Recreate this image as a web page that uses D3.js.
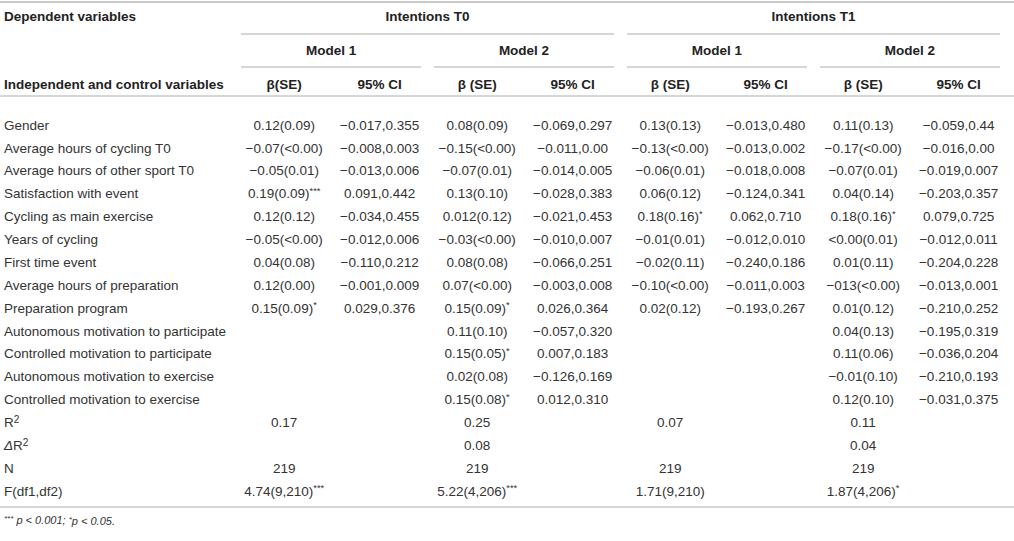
<!DOCTYPE html>
<html>
<head>
<meta charset="utf-8">
<script src="https://cdn.jsdelivr.net/npm/d3@7"></script>
<style>
  html, body { margin: 0; padding: 0; background: #fff; }
  svg { display: block; font-family: "Liberation Sans", Arial, Helvetica, sans-serif; }
</style>
</head>
<body>
<svg id="chart" width="1014" height="541"></svg>
<script>
// ---------- DATA ----------
const rowLabels = [
  "Gender",
  "Average hours of cycling T0",
  "Average hours of other sport T0",
  "Satisfaction with event",
  "Cycling as main exercise",
  "Years of cycling",
  "First time event",
  "Average hours of preparation",
  "Preparation program",
  "Autonomous motivation to participate",
  "Controlled motivation to participate",
  "Autonomous motivation to exercise",
  "Controlled motivation to exercise"
];
const statLabels = ["R2", "ΔR2", "N", "F(df1,df2)"];

const dependentGroups = ["Intentions T0", "Intentions T1"];
const modelGroups = ["Model 1", "Model 2", "Model 1", "Model 2"];
const subHeaders = ["β(SE)", "95% CI", "β (SE)", "95% CI", "β (SE)", "95% CI", "β (SE)", "95% CI"];

const t0m1Beta = ["0.12(0.09)", "−0.07(<0.00)", "−0.05(0.01)", "0.19(0.09)***", "0.12(0.12)", "−0.05(<0.00)", "0.04(0.08)", "0.12(0.00)", "0.15(0.09)*", "", "", "", ""];
const t0m1CI   = ["−0.017,0.355", "−0.008,0.003", "−0.013,0.006", "0.091,0.442", "−0.034,0.455", "−0.012,0.006", "−0.110,0.212", "−0.001,0.009", "0.029,0.376", "", "", "", ""];
const t0m2Beta = ["0.08(0.09)", "−0.15(<0.00)", "−0.07(0.01)", "0.13(0.10)", "0.012(0.12)", "−0.03(<0.00)", "0.08(0.08)", "0.07(<0.00)", "0.15(0.09)*", "0.11(0.10)", "0.15(0.05)*", "0.02(0.08)", "0.15(0.08)*"];
const t0m2CI   = ["−0.069,0.297", "−0.011,0.00", "−0.014,0.005", "−0.028,0.383", "−0.021,0.453", "−0.010,0.007", "−0.066,0.251", "−0.003,0.008", "0.026,0.364", "−0.057,0.320", "0.007,0.183", "−0.126,0.169", "0.012,0.310"];
const t1m1Beta = ["0.13(0.13)", "−0.13(<0.00)", "−0.06(0.01)", "0.06(0.12)", "0.18(0.16)*", "−0.01(0.01)", "−0.02(0.11)", "−0.10(<0.00)", "0.02(0.12)", "", "", "", ""];
const t1m1CI   = ["−0.013,0.480", "−0.013,0.002", "−0.018,0.008", "−0.124,0.341", "0.062,0.710", "−0.012,0.010", "−0.240,0.186", "−0.011,0.003", "−0.193,0.267", "", "", "", ""];
const t1m2Beta = ["0.11(0.13)", "−0.17(<0.00)", "−0.07(0.01)", "0.04(0.14)", "0.18(0.16)*", "<0.00(0.01)", "0.01(0.11)", "−013(<0.00)", "0.01(0.12)", "0.04(0.13)", "0.11(0.06)", "−0.01(0.10)", "0.12(0.10)"];
const t1m2CI   = ["−0.059,0.44", "−0.016,0.00", "−0.019,0.007", "−0.203,0.357", "0.079,0.725", "−0.012,0.011", "−0.204,0.228", "−0.013,0.001", "−0.210,0.252", "−0.195,0.319", "−0.036,0.204", "−0.210,0.193", "−0.031,0.375"];

// model-level statistics (T0 M1, T0 M2, T1 M1, T1 M2)
const rSquared = ["0.17", "0.25", "0.07", "0.11"];
const deltaR2  = ["", "0.08", "", "0.04"];
const nObs     = ["219", "219", "219", "219"];
const fStats   = ["4.74(9,210)***", "5.22(4,206)***", "1.71(9,210)", "1.87(4,206)*"];

const footnote = [["***", " p < 0.001; "], ["*", "p < 0.05."]];

// ---------- LAYOUT ----------
const W = 1014, H = 541;
const svg = d3.select("#chart");
const lineColor = "#c9c9c9";
const textColor = "#333";
const headColor = "#222";
const fs = 13.5;

const models = ["T0M1", "T0M2", "T1M1", "T1M2"];
const xModel = d3.scaleBand().domain(models).range([241, 1000]).paddingInner(0.067).paddingOuter(0);
const bw = xModel.bandwidth();
const betaX = m => xModel(m) + bw * 0.24;
const ciX = m => xModel(m) + bw * 0.77;

const allRows = rowLabels.concat(statLabels);
const yRow = d3.scalePoint().domain(d3.range(allRows.length)).range([125, 491]);

// header rows
const yHead = d3.scalePoint().domain(["dep", "model", "sub"]).range([16, 84]);

function addText(g, x, y, str, opts = {}) {
  const t = g.append("text")
    .attr("x", x).attr("y", y)
    .attr("dy", "0.35em")
    .attr("text-anchor", opts.anchor || "middle")
    .attr("font-size", opts.size || fs)
    .attr("font-weight", opts.bold ? "bold" : "normal")
    .attr("fill", opts.bold ? headColor : textColor);
  const m = /^(.*?)(\*+)$/.exec(str);
  if (m) {
    t.append("tspan").text(m[1]);
    t.append("tspan").text(m[2]).attr("font-size", fs * 0.7).attr("dy", "-0.45em");
  } else {
    t.text(str);
  }
  return t;
}

function hline(x1, x2, y, w) {
  svg.append("line").attr("x1", x1).attr("x2", x2).attr("y1", y).attr("y2", y)
    .attr("stroke", lineColor).attr("stroke-width", w || 1.6);
}

// rules
hline(0, W, 2, 2);
hline(xModel("T0M1"), xModel("T0M2") + bw, 34);
hline(xModel("T1M1"), xModel("T1M2") + bw, 34);
models.forEach(m => hline(xModel(m), xModel(m) + bw, 67));
hline(0, W, 96);
hline(0, W, 507);

const head = svg.append("g");
addText(head, 4, yHead("dep"), "Dependent variables", { anchor: "start", bold: true });
addText(head, (xModel("T0M1") + xModel("T0M2") + bw) / 2, yHead("dep"), dependentGroups[0], { bold: true });
addText(head, (xModel("T1M1") + xModel("T1M2") + bw) / 2, yHead("dep"), dependentGroups[1], { bold: true });
models.forEach((m, i) => addText(head, xModel(m) + bw / 2, yHead("model"), modelGroups[i], { bold: true }));
addText(head, 4, yHead("sub"), "Independent and control variables", { anchor: "start", bold: true });
models.forEach((m, i) => {
  addText(head, betaX(m), yHead("sub"), subHeaders[i * 2], { bold: true });
  addText(head, ciX(m), yHead("sub"), subHeaders[i * 2 + 1], { bold: true });
});

// body
const body = svg.append("g");
rowLabels.forEach((lab, i) => addText(body, 4, yRow(i), lab, { anchor: "start" }));

const betaCols = { T0M1: t0m1Beta, T0M2: t0m2Beta, T1M1: t1m1Beta, T1M2: t1m2Beta };
const ciCols = { T0M1: t0m1CI, T0M2: t0m2CI, T1M1: t1m1CI, T1M2: t1m2CI };
models.forEach(m => {
  betaCols[m].forEach((v, i) => { if (v) addText(body, betaX(m), yRow(i), v); });
  ciCols[m].forEach((v, i) => { if (v) addText(body, ciX(m), yRow(i), v); });
});

// stat labels
const n0 = rowLabels.length;
let t = body.append("text").attr("x", 4).attr("y", yRow(n0)).attr("dy", "0.35em").attr("font-size", fs).attr("fill", textColor);
t.append("tspan").text("R");
t.append("tspan").text("2").attr("font-size", fs * 0.75).attr("dy", "-0.4em");
t = body.append("text").attr("x", 4).attr("y", yRow(n0 + 1)).attr("dy", "0.35em").attr("font-size", fs).attr("fill", textColor);
t.append("tspan").text("Δ").attr("font-style", "italic");
t.append("tspan").text("R");
t.append("tspan").text("2").attr("font-size", fs * 0.75).attr("dy", "-0.4em");
addText(body, 4, yRow(n0 + 2), statLabels[2], { anchor: "start" });
addText(body, 4, yRow(n0 + 3), statLabels[3], { anchor: "start" });

[rSquared, deltaR2, nObs, fStats].forEach((arr, k) => {
  models.forEach((m, j) => { if (arr[j]) addText(body, betaX(m), yRow(n0 + k), arr[j]); });
});

// footnote
const fn = svg.append("text").attr("x", 4).attr("y", 523).attr("dy", "0.35em")
  .attr("font-size", 11).attr("font-style", "italic").attr("fill", textColor);
footnote.forEach(([sup, txt]) => {
  fn.append("tspan").text(sup).attr("font-size", 8).attr("dy", "-0.3em");
  fn.append("tspan").text(txt).attr("dy", "0.3em");
});
</script>
</body>
</html>
